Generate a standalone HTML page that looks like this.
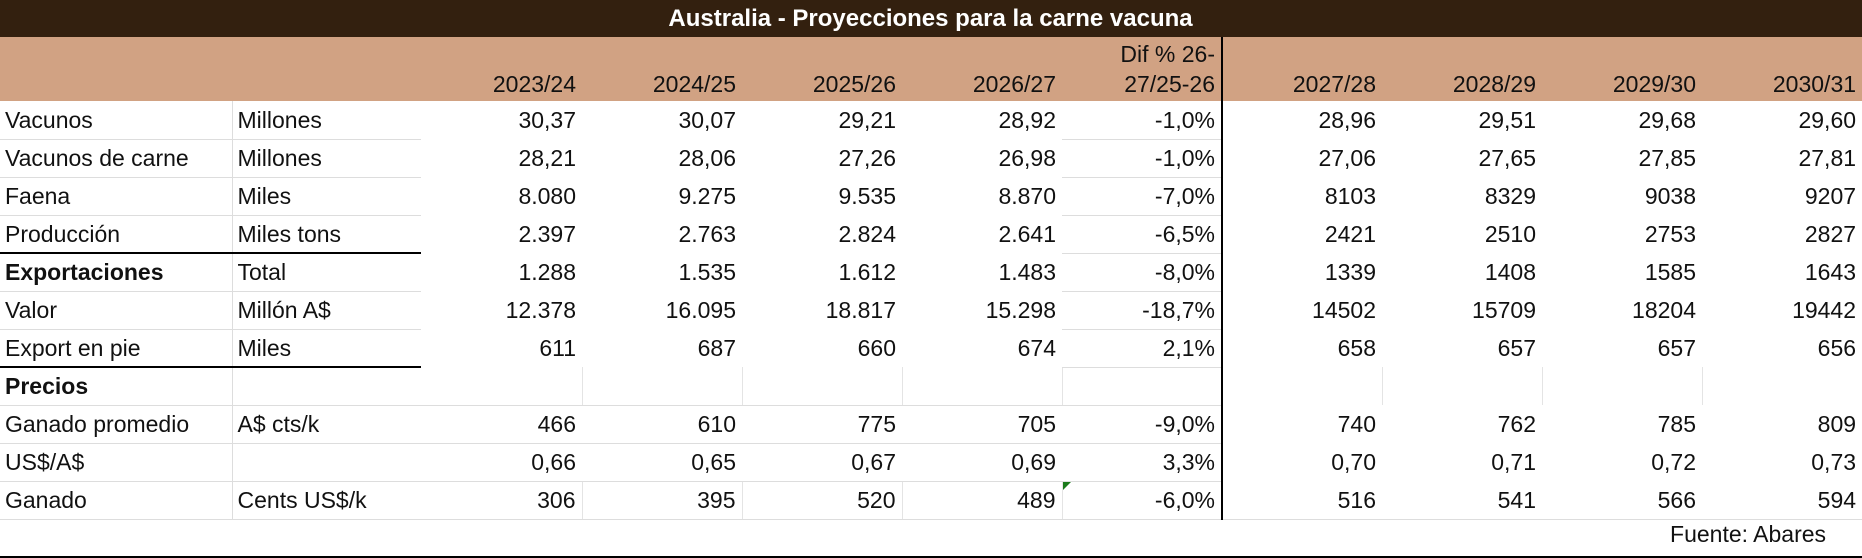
<!DOCTYPE html>
<html><head><meta charset="utf-8"><style>
html,body{margin:0;padding:0;background:#fff;}
body{width:1862px;height:558px;overflow:hidden;font-family:"Liberation Sans",sans-serif;color:#111;}
table{border-collapse:collapse;table-layout:fixed;width:1862px;}
td{padding:0 6px 0 5px;font-size:23px;white-space:nowrap;overflow:hidden;text-align:right;height:38px;line-height:36px;box-sizing:border-box;}
td.l{text-align:left;}
tr.t td{background:#33200f;color:#fff;font-weight:bold;text-align:center;height:37px;line-height:37px;font-size:24px;}
tr.h td{background:#d1a283;height:64px;vertical-align:bottom;line-height:30px;padding-bottom:2px;}
td.a{border-right:1px solid #ddd;border-bottom:1px solid #ddd;}
td.b{border-bottom:1px solid #ddd;}
td.e{border-bottom:1px solid #ddd;}
td.d{border-right:2px solid #000;border-bottom:1px solid #ddd;}
tr.h td.d{border-bottom:none;}
tr.k td.a,tr.k td.b{border-top:2px solid #000;}
td.g{border-right:1px solid #e4e4e4;}
tr.u td{border-bottom:1px solid #ddd;}
tr.f td{border-bottom:2px solid #000;line-height:28px;vertical-align:top;padding-top:0;height:38px;}
b{font-weight:bold;}
</style></head><body>
<table>
<colgroup><col style="width:232px"><col style="width:189px"><col style="width:161px"><col style="width:160px"><col style="width:160px"><col style="width:160px"><col style="width:160px"><col style="width:160px"><col style="width:160px"><col style="width:160px"><col style="width:160px"></colgroup>
<tr class="t"><td colspan="11">Australia - Proyecciones para la carne vacuna</td></tr>
<tr class="h"><td class="l"></td><td></td><td>2023/24</td><td>2024/25</td><td>2025/26</td><td>2026/27</td><td class="d">Dif % 26-<br>27/25-26</td><td>2027/28</td><td>2028/29</td><td>2029/30</td><td>2030/31</td></tr>
<tr><td class="l a">Vacunos</td><td class="l b">Millones</td><td>30,37</td><td>30,07</td><td>29,21</td><td>28,92</td><td class="d">-1,0%</td><td>28,96</td><td>29,51</td><td>29,68</td><td>29,60</td></tr>
<tr><td class="l a">Vacunos de carne</td><td class="l b">Millones</td><td>28,21</td><td>28,06</td><td>27,26</td><td>26,98</td><td class="d">-1,0%</td><td>27,06</td><td>27,65</td><td>27,85</td><td>27,81</td></tr>
<tr><td class="l a">Faena</td><td class="l b">Miles</td><td>8.080</td><td>9.275</td><td>9.535</td><td>8.870</td><td class="d">-7,0%</td><td>8103</td><td>8329</td><td>9038</td><td>9207</td></tr>
<tr><td class="l a">Producción</td><td class="l b">Miles tons</td><td>2.397</td><td>2.763</td><td>2.824</td><td>2.641</td><td class="d">-6,5%</td><td>2421</td><td>2510</td><td>2753</td><td>2827</td></tr>
<tr class="k"><td class="l a"><b>Exportaciones</b></td><td class="l b">Total</td><td>1.288</td><td>1.535</td><td>1.612</td><td>1.483</td><td class="d">-8,0%</td><td>1339</td><td>1408</td><td>1585</td><td>1643</td></tr>
<tr><td class="l a">Valor</td><td class="l b">Millón A$</td><td>12.378</td><td>16.095</td><td>18.817</td><td>15.298</td><td class="d">-18,7%</td><td>14502</td><td>15709</td><td>18204</td><td>19442</td></tr>
<tr><td class="l a">Export en pie</td><td class="l b">Miles</td><td>611</td><td>687</td><td>660</td><td>674</td><td class="d">2,1%</td><td>658</td><td>657</td><td>657</td><td>656</td></tr>
<tr class="k"><td class="l a"><b>Precios</b></td><td class="l b"></td><td class="g e"></td><td class="g e"></td><td class="g e"></td><td class="g e"></td><td class="d"></td><td class="g"></td><td class="g"></td><td class="g"></td><td></td></tr>
<tr><td class="l a">Ganado promedio</td><td class="l b">A$ cts/k</td><td class="e">466</td><td class="e">610</td><td class="e">775</td><td class="e">705</td><td class="d">-9,0%</td><td>740</td><td>762</td><td>785</td><td>809</td></tr>
<tr><td class="l a">US$/A$</td><td class="l b"></td><td class="e">0,66</td><td class="e">0,65</td><td class="e">0,67</td><td class="e">0,69</td><td class="d">3,3%</td><td>0,70</td><td>0,71</td><td>0,72</td><td>0,73</td></tr>
<tr class="u"><td class="l a">Ganado</td><td class="l b">Cents US$/k</td><td class="g e">306</td><td class="g e">395</td><td class="g e">520</td><td class="g e">489</td><td class="d" style="position:relative">-6,0%<span style="position:absolute;left:0;top:0;width:0;height:0;border-top:8px solid #1a7a1a;border-right:8px solid transparent;"></span></td><td>516</td><td>541</td><td>566</td><td>594</td></tr>
<tr class="f"><td colspan="11" style="padding-right:36px;">Fuente: Abares</td></tr>
</table>
</body></html>
